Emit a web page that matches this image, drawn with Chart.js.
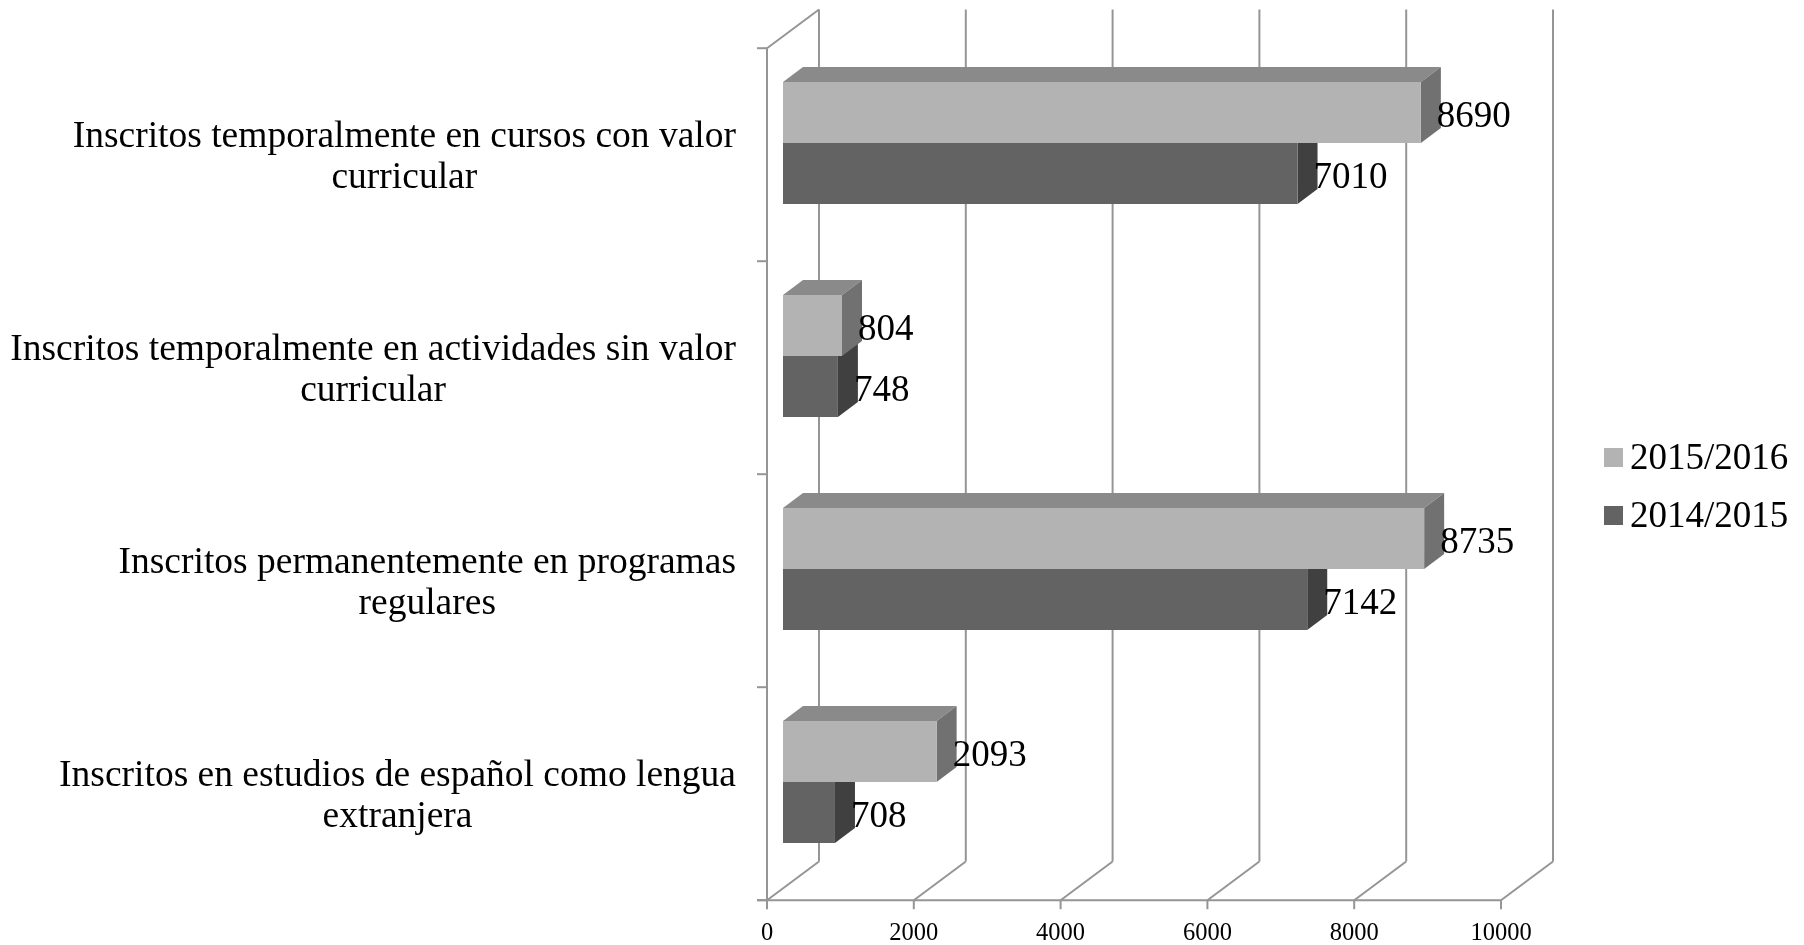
<!DOCTYPE html>
<html>
<head>
<meta charset="utf-8">
<title>Inscritos</title>
<script src="https://cdn.jsdelivr.net/npm/chart.js"></script>
<style>
  html, body { margin: 0; padding: 0; background: #fff; }
  #wrap { width: 1804px; height: 945px; }
</style>
</head>
<body>
<div id="wrap"><canvas id="myChart"></canvas></div>
<script>
// data
var categories = [
  ['Inscritos temporalmente en cursos con valor', 'curricular'],
  ['Inscritos temporalmente en actividades sin valor', 'curricular'],
  ['Inscritos permanentemente en programas', 'regulares'],
  ['Inscritos en estudios de español como lengua', 'extranjera']
];
var seriesLabels = ['2015/2016', '2014/2015'];
var values2015_2016 = [8690, 804, 8735, 2093];
var values2014_2015 = [7010, 748, 7142, 708];
var xTicks = [0, 2000, 4000, 6000, 8000, 10000];

// looks
var FONT = '"Liberation Serif", "Times New Roman", serif';
var GRID = '#959595';
var frontColors = ['#b3b3b3', '#636363'];
var topColors = ['#8a8a8a', '#4d4d4d'];
var sideColors = ['#717171', '#404040'];
// offsets of the front plane / back wall / bar depth, relative to the bar plane
var FRONT = { x: -16, y: 11.7 };
var BACK = { x: 36, y: -27 };
var DEPTH = { x: 20, y: -15 };

function line(ctx, x1, y1, x2, y2) {
  ctx.beginPath();
  ctx.moveTo(x1, y1);
  ctx.lineTo(x2, y2);
  ctx.stroke();
}

function poly(ctx, pts, color) {
  ctx.beginPath();
  ctx.moveTo(pts[0][0], pts[0][1]);
  for (var i = 1; i < pts.length; i++) ctx.lineTo(pts[i][0], pts[i][1]);
  ctx.closePath();
  ctx.fillStyle = color;
  ctx.fill();
}

var chart3d = {
  id: 'chart3d',
  beforeDatasetsDraw: function(chart) {
    var ctx = chart.ctx, a = chart.chartArea;
    var xs = chart.scales.x, ys = chart.scales.y;
    var fl = a.left + FRONT.x, ft = a.top + FRONT.y, fb = a.bottom + FRONT.y;
    var dx = BACK.x - FRONT.x, dy = BACK.y - FRONT.y;

    ctx.save();
    ctx.strokeStyle = GRID;
    ctx.lineWidth = 2;

    // left wall
    line(ctx, fl, ft, fl, fb);
    line(ctx, fl, ft, fl + dx, ft + dy);
    for (var i = 0; i <= categories.length; i++) {
      var yy = ys.getPixelForValue(i - 0.5) + FRONT.y;
      line(ctx, fl - 10, yy, fl, yy);
    }

    // floor + back wall
    var xEnd = xs.getPixelForValue(xTicks[xTicks.length - 1]) + FRONT.x;
    line(ctx, fl - 10, fb, xEnd, fb);
    xTicks.forEach(function(v) {
      var px = xs.getPixelForValue(v);
      var fx = px + FRONT.x;
      line(ctx, fx, fb, fx, fb + 9);
      line(ctx, fx, fb, fx + dx, fb + dy);
      line(ctx, px + BACK.x, a.top + BACK.y, px + BACK.x, a.bottom + BACK.y);
    });

    ctx.font = '24.5px ' + FONT;
    ctx.fillStyle = '#000';
    ctx.textAlign = 'center';
    ctx.textBaseline = 'middle';
    xTicks.forEach(function(v) {
      ctx.fillText(String(v), xs.getPixelForValue(v) + FRONT.x, fb + 33);
    });

    // top and side faces of the bars, back to front
    for (var d = chart.data.datasets.length - 1; d >= 0; d--) {
      var meta = chart.getDatasetMeta(d);
      meta.data.forEach(function(el) {
        var p = el.getProps(['x', 'y', 'base', 'height'], true);
        var top = p.y - p.height / 2, bot = p.y + p.height / 2;
        poly(ctx, [[p.base, top], [p.x, top], [p.x + DEPTH.x, top + DEPTH.y], [p.base + DEPTH.x, top + DEPTH.y]], topColors[d]);
        poly(ctx, [[p.x, top], [p.x + DEPTH.x, top + DEPTH.y], [p.x + DEPTH.x, bot + DEPTH.y], [p.x, bot]], sideColors[d]);
      });
    }
    ctx.restore();
  },
  afterDatasetsDraw: function(chart) {
    var ctx = chart.ctx;
    ctx.save();
    ctx.font = '37px ' + FONT;
    ctx.fillStyle = '#000';
    ctx.textAlign = 'left';
    ctx.textBaseline = 'middle';
    chart.data.datasets.forEach(function(ds, d) {
      chart.getDatasetMeta(d).data.forEach(function(el, i) {
        ctx.fillText(String(ds.data[i]), el.x + 16, el.y + 5);
      });
    });
    ctx.restore();
  },
  afterDraw: function(chart) {
    var ctx = chart.ctx, a = chart.chartArea, ys = chart.scales.y;
    var right = a.left + FRONT.x - 31;
    var lh = 41;
    ctx.save();
    ctx.font = '37.5px ' + FONT;
    ctx.fillStyle = '#000';
    ctx.textAlign = 'center';
    ctx.textBaseline = 'middle';
    categories.forEach(function(lines, i) {
      var cy = ys.getPixelForValue(i) + FRONT.y + 2.5;
      var w = 0;
      lines.forEach(function(t) { w = Math.max(w, ctx.measureText(t).width); });
      var cx = right - w / 2;
      var y0 = cy - (lines.length - 1) * lh / 2;
      lines.forEach(function(t, k) { ctx.fillText(t, cx, y0 + k * lh); });
    });

    // legend
    ctx.font = '37px ' + FONT;
    ctx.textAlign = 'left';
    chart.data.datasets.forEach(function(ds, d) {
      var y = 457.5 + d * 58;
      ctx.fillStyle = ds.backgroundColor;
      ctx.fillRect(1604, y - 9.5, 19, 19);
      ctx.fillStyle = '#000';
      ctx.fillText(ds.label, 1630, y + 2);
    });
    ctx.restore();
  }
};

var ctx = document.getElementById('myChart');

var barChart = new Chart(ctx, {
  type: 'bar',
  data: {
    labels: categories,
    datasets: [
      { label: seriesLabels[0], data: values2015_2016, backgroundColor: frontColors[0] },
      { label: seriesLabels[1], data: values2014_2015, backgroundColor: frontColors[1] }
    ]
  },
  options: {
    indexAxis: 'y',
    responsive: true,
    maintainAspectRatio: false,
    animation: false,
    layout: { padding: { left: 783, right: 287, top: 36.5, bottom: 56.5 } },
    datasets: { bar: { categoryPercentage: 0.573, barPercentage: 1 } },
    plugins: { legend: { display: false }, tooltip: { enabled: false } },
    scales: {
      x: { type: 'linear', min: 0, max: 10000, display: false },
      y: { type: 'category', offset: true, display: false }
    }
  },
  plugins: [chart3d]
});
</script>
</body>
</html>
